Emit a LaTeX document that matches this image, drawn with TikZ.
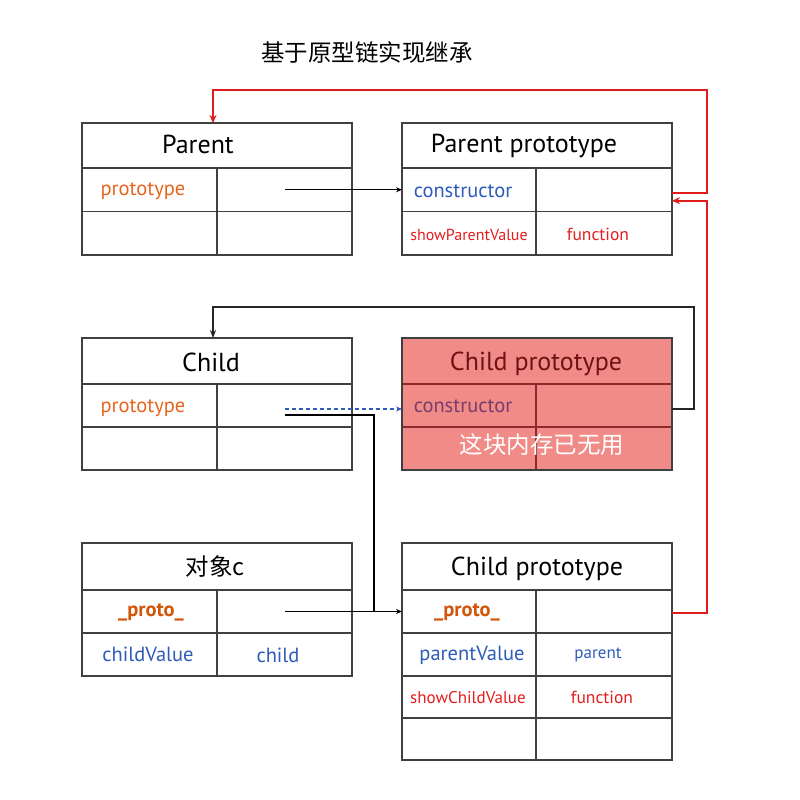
\documentclass[tikz,border=0pt]{standalone}
\usepackage{fontspec}
\setmainfont{PT Sans}
\newfontfamily\cjk{Noto Sans CJK SC}
\usetikzlibrary{arrows.meta}
\definecolor{boxgray}{HTML}{404040}
\definecolor{orng}{HTML}{E8651E}
\definecolor{blu}{HTML}{2E5CB8}
\definecolor{redtxt}{HTML}{E31E1E}
\definecolor{protoc}{HTML}{D2560A}
\definecolor{redline}{HTML}{E01B1B}
\definecolor{deadfill}{HTML}{F08B87}
\definecolor{deadline}{HTML}{8A2A2A}
\definecolor{deadhead}{HTML}{6E1212}
\definecolor{deadcons}{HTML}{7A3C6C}
\begin{document}
\begin{tikzpicture}[x=1pt,y=-1pt,
  cell/.style={draw=boxgray, line width=1.3pt, minimum width=135pt, minimum height=43pt, inner sep=0pt, outer sep=0pt},
  lcell/.style={cell, minimum width=134pt},
  rcell/.style={cell, minimum width=136pt},
  head/.style={cell, minimum width=270pt, minimum height=45pt},
  dead/.style={fill=deadfill, draw=deadline},
  txt/.style={inner sep=0pt, anchor=base, font=\fontsize{20.5}{22}\selectfont},
  htxt/.style={inner sep=0pt, anchor=base, font=\fontsize{26}{29}\selectfont},
  ctxt/.style={inner sep=0pt, font=\cjk\fontsize{23.5}{26}\selectfont},
  ptxt/.style={inner sep=0pt, anchor=base, text=protoc, font=\bfseries\fontsize{20.5}{22}\selectfont},
  thinarrow/.style={draw=black, line width=1pt, -{Stealth[length=6pt,width=5pt]}},
  redarrow/.style={draw=redline, line width=1.8pt, -{Stealth[length=8pt,width=7pt]}},
  loopline/.style={draw=black!85, line width=1.6pt, -{Stealth[length=8pt,width=6pt]}},
  bluedash/.style={draw=blu, line width=1.3pt, dashed, dash pattern=on 4pt off 3pt, -{Stealth[length=6pt,width=5pt]}},
  thickline/.style={draw=black, line width=2pt}
]
\useasboundingbox (0,0) rectangle (800,800);
\fill[white] (0,0) rectangle (800,800);

% title
\node[ctxt] (title) at (367,53) {基于原型链实现继承};

% Parent
\node[head, minimum height=45pt] (phead) at (217,145.5) {};
\node[cell, minimum height=43.5pt] (p1a) at (149.5,189.75) {};
\node[cell, minimum height=43.5pt] (p1b) at (284.5,189.75) {};
\node[cell, minimum height=43.5pt] (p2a) at (149.5,233.25) {};
\node[cell, minimum height=43.5pt] (p2b) at (284.5,233.25) {};
\node[htxt] (tparent) at (198,153) {Parent};
\node[txt, text=orng] (tpproto) at (143,195) {prototype};

% Parent prototype
\node[head] (pphead) at (537,145.5) {};
\node[lcell, minimum height=43.5pt] (pp1a) at (469,189.75) {};
\node[rcell, minimum height=43.5pt] (pp1b) at (604,189.75) {};
\node[lcell, minimum height=43.5pt] (pp2a) at (469,233.25) {};
\node[rcell, minimum height=43.5pt] (pp2b) at (604,233.25) {};
\node[htxt] (tpp) at (524,152) {Parent prototype};
\node[txt, text=blu] (tppcons) at (463,197) {constructor};
\node[txt, text=redtxt, font=\fontsize{16}{18}\selectfont] (tspv) at (469,240) {showParentValue};
\node[txt, text=redtxt, font=\fontsize{17.5}{19}\selectfont] (tppf) at (598,240) {function};

% Child
\node[head, minimum height=46pt] (chead) at (217,361) {};
\node[cell] (c1a) at (149.5,405.5) {};
\node[cell] (c1b) at (284.5,405.5) {};
\node[cell] (c2a) at (149.5,448.5) {};
\node[cell] (c2b) at (284.5,448.5) {};
\node[htxt] (tchild) at (211,371.5) {Child};
\node[txt, text=orng] (tcproto) at (143,412) {prototype};

% dead Child prototype
\node[head, dead, minimum height=46pt] (cphead) at (537,361) {};
\node[lcell, dead] (cp1a) at (469,405.5) {};
\node[rcell, dead] (cp1b) at (604,405.5) {};
\node[lcell, dead] (cp2a) at (469,448.5) {};
\node[rcell, dead] (cp2b) at (604,448.5) {};
\draw[boxgray, line width=1.3pt] (402,338) rectangle (672,470);
\node[htxt, text=deadhead] (tcp) at (536,370) {Child prototype};
\node[txt, text=deadcons] (tcpcons) at (463,412) {constructor};
\node[ctxt, text=white] (tdead) at (542,445) {这块内存已无用};

% object c
\node[head, minimum height=47pt] (ohead) at (217,566.5) {};
\node[cell] (o1a) at (149.5,611.5) {};
\node[cell] (o1b) at (284.5,611.5) {};
\node[cell] (o2a) at (149.5,654.5) {};
\node[cell] (o2b) at (284.5,654.5) {};
\node[ctxt] (tobj) at (215,567) {对象c};
\node[ptxt] (toproto) at (151,616.5) {\_proto\_};
\node[txt, text=blu] (tcv) at (148,661) {childValue};
\node[txt, text=blu] (tcvv) at (278,662) {child};

% Child prototype (new)
\node[head, minimum height=47pt] (bhead) at (537,566.5) {};
\node[lcell] (b1a) at (469,611.5) {};
\node[rcell] (b1b) at (604,611.5) {};
\node[lcell] (b2a) at (469,654.5) {};
\node[rcell] (b2b) at (604,654.5) {};
\node[lcell, minimum height=42pt] (b3a) at (469,697) {};
\node[rcell, minimum height=42pt] (b3b) at (604,697) {};
\node[lcell, minimum height=42pt] (b4a) at (469,739) {};
\node[rcell, minimum height=42pt] (b4b) at (604,739) {};
\node[htxt] (tbp) at (537,575) {Child prototype};
\node[ptxt] (tbproto) at (467,616) {\_proto\_};
\node[txt, text=blu] (tpv) at (472,660) {parentValue};
\node[txt, text=blu, font=\fontsize{17}{19}\selectfont] (tpvv) at (598,658) {parent};
\node[txt, text=redtxt, font=\fontsize{17}{19}\selectfont] (tscv) at (468,703) {showChildValue};
\node[txt, text=redtxt, font=\fontsize{17.5}{19}\selectfont] (tbf) at (602,703) {function};

% connectors
\coordinate (ra) at (707,90);
\coordinate (rb) at (707,400);
\coordinate (bk) at (694,307);
\coordinate (jn) at (374,611.5);

\draw[thinarrow] (p1b.center) -- (pp1a.west);
\draw[redarrow] ([yshift=-3pt]pp1b.east) -| (ra) -| ([xshift=-4pt]phead.north);
\draw[redarrow] ([yshift=-1.5pt]b1b.east) -| (rb) |- ([yshift=-11pt]pp1b.east);
\draw[loopline] ([yshift=-3.5pt]cp1b.east) -| (bk) -| ([xshift=-4pt]chead.north);
\draw[bluedash] ([yshift=-3.5pt]c1b.center) -- ([yshift=-3.5pt]cp1a.west);
\draw[thickline] ([yshift=-9.5pt]c1b.center) -| (jn);
\draw[thinarrow] (o1b.center) -- (b1a.west);
\end{tikzpicture}
\end{document}
